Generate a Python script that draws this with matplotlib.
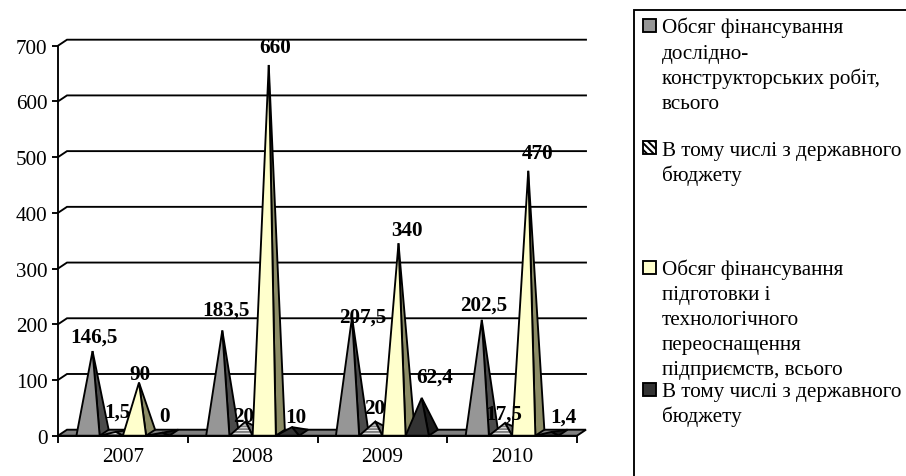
import matplotlib
matplotlib.use("Agg")
import matplotlib.pyplot as plt
from matplotlib.patches import Polygon, Rectangle

plt.rcParams['font.family'] = ['Liberation Serif', 'DejaVu Serif']
plt.rcParams['hatch.linewidth'] = 1.4

years = ['2007', '2008', '2009', '2010']
rd_total = [146.5, 183.5, 207.5, 202.5]
rd_state = [1.5, 20, 20, 17.5]
prep_total = [90, 660, 340, 470]
prep_state = [0, 10, 62.4, 1.4]
rd_labels = ['146,5', '183,5', '207,5', '202,5']
rd_state_labels = ['1,5', '20', '20', '17,5']
prep_labels = ['90', '660', '340', '470']
prep_state_labels = ['0', '10', '62,4', '1,4']
yticks = [0, 100, 200, 300, 400, 500, 600, 700]

FS = 15.2
LW = 1.35
W, H = 906, 477
fig = plt.figure(figsize=(W / 100, H / 100), dpi=100, facecolor='white')
L, R, T, B = 58, 577, 46.7, 436.7
ax = fig.add_axes([L / W, 1 - B / H, (R - L) / W, (B - T) / H])
ax.set_xlim(0, 4)
ax.set_ylim(0, 700)
ax.patch.set_visible(False)
for s in ('top', 'right'):
    ax.spines[s].set_visible(False)
for s in ('left', 'bottom'):
    ax.spines[s].set_linewidth(LW)
    ax.spines[s].set_zorder(30)

DX = 9 / ((R - L) / 4)      # depth offset in category units
DY = 6 / ((B - T) / 700)    # depth offset in value units
GAP = 0.142
BW = (1 - 2 * GAP) / 4

ax.set_yticks(yticks)
ax.set_xticks([0, 1, 2, 3, 4])
ax.set_xticklabels([])
ax.set_xticks([0.5, 1.5, 2.5, 3.5], labels=years, minor=True)
ax.tick_params(axis='x', which='minor', length=0, labelsize=FS, pad=8)
ax.tick_params(axis='x', which='major', length=5, width=LW)
ax.tick_params(axis='y', length=4, width=LW, labelsize=FS, pad=3.5)

for v in yticks[1:]:
    ax.plot([0, DX, 4 + DX], [v, v + DY, v + DY], color='black', lw=LW,
            clip_on=False, zorder=1, solid_joinstyle='miter')

ax.add_patch(Polygon([(0, 0), (DX, DY), (4 + DX, DY), (4, 0)], closed=True,
                     facecolor='#808080', edgecolor='black', lw=LW,
                     clip_on=False, zorder=2))

series = [
    (rd_total, rd_labels, '#969696', '#4b4b4b', None,
     [(1, 14), (4, 21), (11, 0), (2, 15)]),
    (rd_state, rd_state_labels, 'white', '#707070', '------',
     [(2, 20), (-2, 6), (-1, 14), (-1, 9)]),
    (prep_total, prep_labels, '#FFFFCC', '#8c8c66', None,
     [(1, 9), (6, 18), (8, 13), (9, 18)]),
    (prep_state, prep_state_labels, '#333333', '#1c1c1c', None,
     [(2, 17), (4, 10), (13, 21), (12, 15)]),
]

z = 3
for c in range(4):
    for k, (vals, labs, face, side, hatch, offs) in enumerate(series):
        x0 = c + GAP + k * BW
        x1 = x0 + BW
        v = vals[c]
        apex = ((x0 + x1 + DX) / 2, v + DY / 2)
        ax.add_patch(Polygon([(x1, 0), (x1 + DX, DY), apex], closed=True,
                             facecolor=side, edgecolor='black', lw=LW,
                             clip_on=False, zorder=z, joinstyle='miter'))
        ax.add_patch(Polygon([(x0, 0), (x1, 0), apex], closed=True,
                             facecolor=face, edgecolor='black' if hatch is None else '#808080',
                             hatch=hatch, lw=0 if hatch else LW,
                             clip_on=False, zorder=z + 0.1, joinstyle='miter'))
        if hatch:
            ax.add_patch(Polygon([(x0, 0), (x1, 0), apex], closed=True,
                                 fill=False, edgecolor='black', lw=LW,
                                 clip_on=False, zorder=z + 0.2))
        z += 0.5

for c in range(4):
    for k, (vals, labs, face, side, hatch, offs) in enumerate(series):
        x0 = c + GAP + k * BW
        x1 = x0 + BW
        ax.annotate(labs[c], xy=((x0 + x1 + DX) / 2, vals[c] + DY / 2),
                    xytext=offs[c], textcoords='offset pixels',
                    ha='center', va='center', fontsize=FS, fontweight='bold',
                    annotation_clip=False, zorder=40)


def fx(px):
    return px / W


def fy(py):
    return 1 - py / H


fig.add_artist(Rectangle((fx(634), fy(490)), fx(300), fy(11) - fy(490),
                         transform=fig.transFigure, facecolor='white',
                         edgecolor='black', lw=LW, zorder=0))

legend_entries = [
    ('#969696', None, 26, [('Обсяг фінансування', 33), ('дослідно-', 58.5),
                           ('конструкторських робіт,', 84), ('всього', 109)]),
    ('white', '\\\\\\\\\\', 148, [('В тому числі з державного', 155.7), ('бюджету', 181)]),
    ('#FFFFCC', None, 268, [('Обсяг фінансування', 275), ('підготовки і', 300),
                            ('технологічного', 325), ('переоснащення', 350),
                            ('підприємств, всього', 375)]),
    ('#333333', None, 390, [('В тому числі з державного', 396.7), ('бюджету', 421.7)]),
]
for face, hatch, cy, lines in legend_entries:
    fig.add_artist(Rectangle((fx(643), fy(cy + 6.5)), 13 / W, 13 / H,
                             transform=fig.transFigure, facecolor=face,
                             edgecolor='black', lw=LW, hatch=hatch, zorder=2))
    for text, base in lines:
        fig.text(fx(662), fy(base), text, fontsize=FS, ha='left', va='baseline')

fig.savefig('out.png', dpi=100)
